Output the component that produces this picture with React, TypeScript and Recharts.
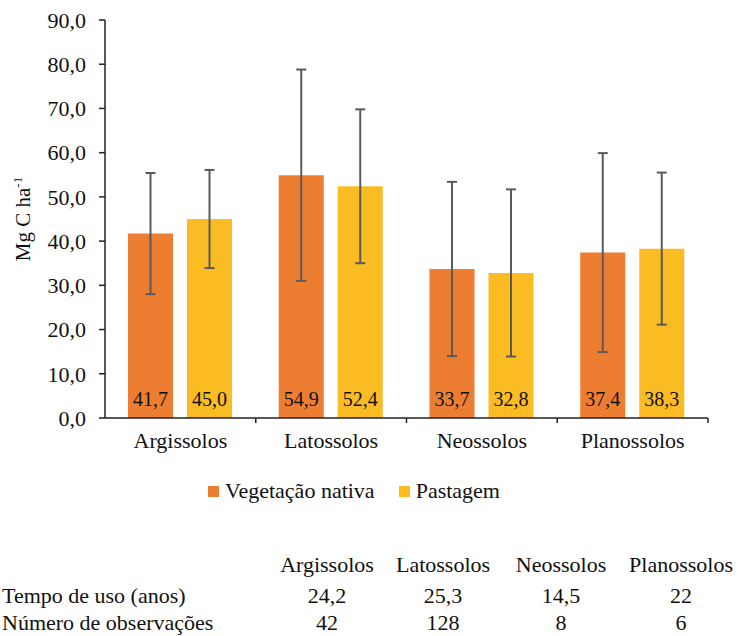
import {
  Bar,
  BarChart,
  ErrorBar,
  LabelList,
  Legend,
  XAxis,
  YAxis,
} from "recharts";

const categories = ["Argissolos", "Latossolos", "Neossolos", "Planossolos"];
const vegetacaoNativa = [41.7, 54.9, 33.7, 37.4];
const pastagem = [45.0, 52.4, 32.8, 38.3];
const vegetacaoErro = [13.7, 23.9, 19.7, 22.5];
const pastagemErro = [11.1, 17.4, 18.9, 17.2];
const yTicks = [0, 10, 20, 30, 40, 50, 60, 70, 80, 90];
const seriesNames = ["Vegetação nativa", "Pastagem"];

const tempoDeUso = ["24,2", "25,3", "14,5", "22"];
const numeroObservacoes = ["42", "128", "8", "6"];

const FONT = '"Liberation Serif", "DejaVu Serif", "Noto Serif", "Times New Roman", serif';
const ORANGE = "#ED7D31";
const YELLOW = "#FBBC23";

const data = categories.map((solo, i) => ({
  solo,
  veg: vegetacaoNativa[i],
  vegErr: vegetacaoErro[i],
  past: pastagem[i],
  pastErr: pastagemErro[i],
}));

const fmt = (v: number) => v.toFixed(1).replace(".", ",");

// value printed near the base of each bar
// eslint-disable-next-line @typescript-eslint/no-explicit-any
const BaseLabel = (props: any) => {
  const { x, y, width, height, value } = props;
  return (
    <text
      x={x + width / 2}
      y={y + height - 12}
      textAnchor="middle"
      fontFamily={FONT}
      fontSize={20}
      fill="#111"
    >
      {fmt(Number(value))}
    </text>
  );
};

// eslint-disable-next-line @typescript-eslint/no-explicit-any
const CategoryTick = (props: any) => {
  const { x, y, payload } = props;
  const half = payload?.offset ?? 0;
  return (
    <g>
      <line x1={x + half} x2={x + half} y1={y - 8} y2={y - 3} stroke="#222" strokeWidth={1.5} />
      <text
        x={x}
        y={y + 22}
        textAnchor="middle"
        fontFamily={FONT}
        fontSize={22}
        fill="#111"
      >
        {payload.value}
      </text>
    </g>
  );
};

// eslint-disable-next-line @typescript-eslint/no-explicit-any
const YLabel = (props: any) => {
  const { viewBox } = props;
  const cy = viewBox.y + viewBox.height / 2;
  return (
    <text
      x={30}
      y={cy}
      transform={`rotate(-90, 30, ${cy})`}
      textAnchor="middle"
      fontFamily={FONT}
      fontSize={21}
      fill="#111"
    >
      Mg C ha
      <tspan dy={-8} fontSize={13}>
        -1
      </tspan>
    </text>
  );
};

// eslint-disable-next-line @typescript-eslint/no-explicit-any
const LegendContent = (props: any) => {
  // eslint-disable-next-line @typescript-eslint/no-explicit-any
  const items = [...(props.payload || [])].sort(
    (a: any, b: any) => seriesNames.indexOf(a.value) - seriesNames.indexOf(b.value)
  );
  return (
    <div style={{ display: "flex", fontFamily: FONT, fontSize: 22, color: "#111" }}>
      {/* eslint-disable-next-line @typescript-eslint/no-explicit-any */}
      {items.map((p: any) => (
        <div key={p.value} style={{ display: "flex", alignItems: "center", marginRight: 24 }}>
          <span
            style={{
              width: 11,
              height: 11,
              background: p.color,
              display: "inline-block",
              marginRight: 6,
            }}
          />
          {p.value}
        </div>
      ))}
    </div>
  );
};

const colCenters = [327, 443, 561, 681];

export default function App() {
  return (
    <div
      style={{
        position: "absolute",
        left: 0,
        top: 0,
        width: 738,
        height: 636,
        background: "#fff",
        fontFamily: FONT,
      }}
    >
      <BarChart
        width={738}
        height={520}
        data={data}
        margin={{ top: 20, right: 30, bottom: 50, left: 0 }}
        barCategoryGap={23}
        barGap={14}
      >
        <YAxis
          width={105}
          domain={[0, 90]}
          ticks={yTicks}
          tickFormatter={fmt}
          interval={0}
          axisLine={{ stroke: "#222", strokeWidth: 1.5 }}
          tickLine={{ stroke: "#222", strokeWidth: 1.5 }}
          tickSize={6}
          tickMargin={13}
          tick={{ fontFamily: FONT, fontSize: 22, fill: "#111" }}
          label={<YLabel />}
        />
        <XAxis
          dataKey="solo"
          height={52}
          axisLine={{ stroke: "#222", strokeWidth: 1.5 }}
          tickLine={false}
          tick={<CategoryTick />}
          interval={0}
        />
        <Legend
          verticalAlign="middle"
          align="center"
          layout="horizontal"
          wrapperStyle={{ top: 478, left: 208, width: 340 }}
          content={<LegendContent />}
        />
        <Bar dataKey="veg" name={seriesNames[0]} fill={ORANGE} isAnimationActive={false}>
          <ErrorBar dataKey="vegErr" width={5} stroke="#5a5a5a" strokeWidth={2} />
          <LabelList dataKey="veg" content={<BaseLabel />} />
        </Bar>
        <Bar dataKey="past" name={seriesNames[1]} fill={YELLOW} isAnimationActive={false}>
          <ErrorBar dataKey="pastErr" width={5} stroke="#5a5a5a" strokeWidth={2} />
          <LabelList dataKey="past" content={<BaseLabel />} />
        </Bar>
      </BarChart>

      <div style={{ position: "absolute", top: 552, left: 0, width: 738, fontSize: 22, color: "#111" }}>
        {categories.map((c, i) => (
          <span
            key={c}
            style={{ position: "absolute", left: colCenters[i], transform: "translateX(-50%)", top: 0, whiteSpace: "nowrap" }}
          >
            {c}
          </span>
        ))}
        <span style={{ position: "absolute", left: 2, top: 31, whiteSpace: "nowrap" }}>Tempo de uso (anos)</span>
        {tempoDeUso.map((v, i) => (
          <span
            key={"t" + i}
            style={{ position: "absolute", left: colCenters[i], transform: "translateX(-50%)", top: 31 }}
          >
            {v}
          </span>
        ))}
        <span style={{ position: "absolute", left: 2, top: 58, whiteSpace: "nowrap" }}>Número de observações</span>
        {numeroObservacoes.map((v, i) => (
          <span
            key={"n" + i}
            style={{ position: "absolute", left: colCenters[i], transform: "translateX(-50%)", top: 58 }}
          >
            {v}
          </span>
        ))}
      </div>
    </div>
  );
}
